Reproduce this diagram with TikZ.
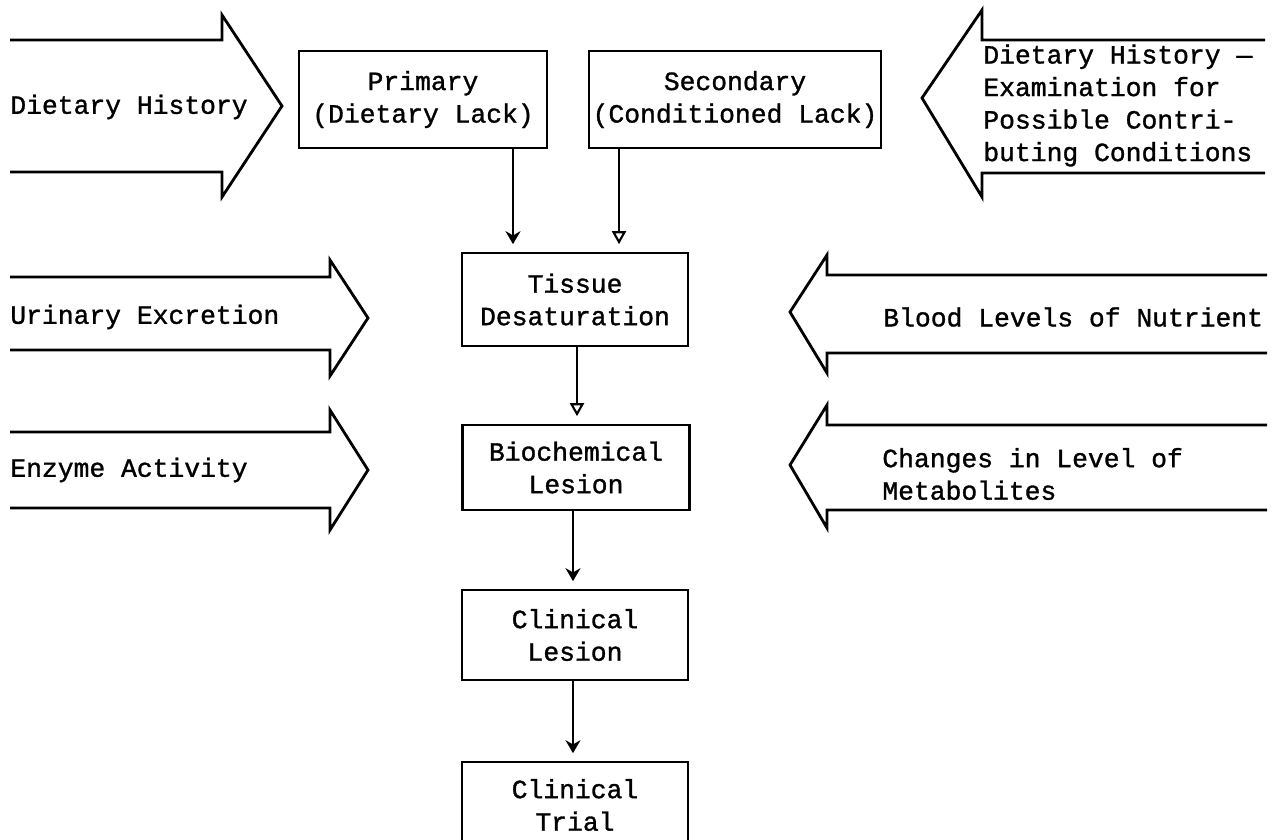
\documentclass[tikz,border=0pt]{standalone}
\usepackage{fontspec}
\newfontfamily\typefont[FakeBold=1.2]{Liberation Mono}
\usetikzlibrary{arrows.meta}
\tikzset{
    stagebox/.style={
        draw,
        line width=1.5pt,
        inner sep=0pt,
        align=center,
        font=\typefont\fontsize{15pt}{18.5pt}\selectfont
    },
    sidetext/.style={
        inner sep=0pt,
        anchor=west,
        align=left,
        font=\typefont\fontsize{15pt}{18.5pt}\selectfont
    },
    bigarrow/.style={
        line width=1.6pt,
        line join=miter
    },
    flowarrow/.style={
        line width=1.2pt,
        shorten >=1.5mm,
        -{Stealth[length=2.6mm, width=3mm]}
    },
    openarrow/.style={
        line width=1.2pt,
        shorten >=1.5mm,
        -{Triangle[open, length=2.6mm, width=2.8mm]}
    }
}

\begin{document}
\begin{tikzpicture}[x=0.2mm,y=-0.2mm]
    \useasboundingbox (0,0) rectangle (1277,840);
    \clip (0,0) rectangle (1277,840);

    % boxes
    \node[stagebox, minimum width=49.6mm, minimum height=19.4mm] (prim) at (423,99.5) {Primary\\(Dietary Lack)};
    \node[stagebox, minimum width=58.4mm, minimum height=19.4mm] (sec) at (735,99.5) {Secondary\\(Conditioned Lack)};
    \node[stagebox, minimum width=45.2mm, minimum height=18.6mm] (tissue) at (575,299.5) {Tissue\\Desaturation};
    \node[stagebox, minimum width=45.4mm, minimum height=17mm] (bio) at (576,467.5) {Biochemical\\Lesion};
    \node[stagebox, minimum width=45.2mm, minimum height=18mm] (clinles) at (575,635) {Clinical\\Lesion};
    \node[stagebox, minimum width=45.2mm, minimum height=17.2mm] (trial) at (575,805) {Clinical\\Trial};

    % arrows between boxes
    \draw[flowarrow] (prim.south -| 513,0) -- (tissue.north -| 513,0);
    \draw[openarrow] (sec.south -| 619,0) -- (tissue.north -| 619,0);
    \draw[openarrow] (tissue.south -| 577,0) -- (bio.north -| 577,0);
    \draw[flowarrow] (bio.south -| 573,0) -- (clinles.north -| 573,0);
    \draw[flowarrow] (clinles.south -| 573,0) -- (trial.north -| 573,0);

    % left side block arrows
    \draw[bigarrow] (10,40) -- (222,40) -- (222,15) -- (282,106) -- (222,197) -- (222,172) -- (10,172);
    \draw[bigarrow] (10,277) -- (330,277) -- (330,260) -- (368,318) -- (330,376) -- (330,350) -- (10,350);
    \draw[bigarrow] (10,432) -- (330,432) -- (330,410) -- (368,470) -- (330,530) -- (330,508) -- (10,508);

    \node[sidetext] (diet) at (10,107) {Dietary History};
    \node[sidetext] (urine) at (10,317) {Urinary Excretion};
    \node[sidetext] (enzyme) at (10,470) {Enzyme Activity};

    % right side block arrows
    \draw[bigarrow] (1265,40) -- (982,40) -- (982,10) -- (922,98) -- (982,197) -- (982,173) -- (1265,173);
    \draw[bigarrow] (1267,275) -- (827,275) -- (827,255) -- (790,312) -- (827,373) -- (827,353) -- (1267,353);
    \draw[bigarrow] (1267,425) -- (827,425) -- (827,405) -- (790,465) -- (827,528) -- (827,510) -- (1267,510);

    \node[sidetext] (histexam) at (983,105.5) {Dietary History —\\Examination for\\Possible Contri-\\buting Conditions};
    \node[sidetext] (blood) at (883,317) {Blood Levels of Nutrient};
    \node[sidetext] (metab) at (882,474) {Changes in Level of\\Metabolites};
\end{tikzpicture}
\end{document}
